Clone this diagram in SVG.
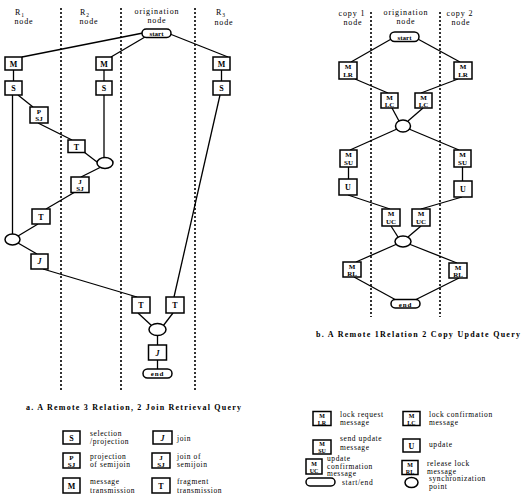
<svg xmlns="http://www.w3.org/2000/svg" width="522" height="499" viewBox="0 0 522 499">
<style>
text{font-family:"Liberation Serif","DejaVu Serif",serif;fill:#000}
.h{font-size:8px;letter-spacing:0.9px;text-anchor:middle}
.b{fill:#fff;stroke:#000;stroke-width:1.5}
.o{fill:#fff;stroke:#000;stroke-width:1.5}
.l{font-size:8px;font-weight:bold;text-anchor:middle}
.s{font-size:7px;font-weight:bold;text-anchor:middle}
.t{font-size:6px;font-weight:bold;text-anchor:middle}
.c{font-size:8px;font-weight:bold;letter-spacing:1px}
.g{font-size:7.5px;letter-spacing:0.6px}
.d{stroke:#000;stroke-width:1.6;stroke-dasharray:2,2;fill:none}
.e{stroke:#000;stroke-width:1.3;fill:none}
</style>
<rect width="522" height="499" fill="#fff"/>
<g id="dividers">
<line class="d" x1="61" y1="8" x2="61" y2="390"/>
<line class="d" x1="121" y1="8" x2="121" y2="390"/>
<line class="d" x1="195" y1="8" x2="195" y2="390"/>
<line class="d" x1="371" y1="12" x2="371" y2="317"/>
<line class="d" x1="440" y1="12" x2="440" y2="317"/>
</g>
<g id="headers">
<text class="h" x="20" y="15">R<tspan font-size="5.5px" dy="1.5">1</tspan></text>
<text class="h" x="24" y="24">node</text>
<text class="h" x="85" y="15">R<tspan font-size="5.5px" dy="1.5">2</tspan></text>
<text class="h" x="89" y="24">node</text>
<text class="h" x="157" y="14">origination</text>
<text class="h" x="157" y="23">node</text>
<text class="h" x="221" y="15">R<tspan font-size="5.5px" dy="1.5">3</tspan></text>
<text class="h" x="224" y="25">node</text>
<text class="h" x="352" y="16">copy 1</text>
<text class="h" x="353" y="25">node</text>
<text class="h" x="406" y="15">origination</text>
<text class="h" x="406" y="24">node</text>
<text class="h" x="460" y="16">copy 2</text>
<text class="h" x="461" y="25">node</text>
</g>
<g id="connectors">
<line class="e" x1="143" y1="33" x2="22" y2="57"/>
<line class="e" x1="145" y1="37" x2="111" y2="57"/>
<line class="e" x1="170" y1="34" x2="228" y2="57"/>
<line class="e" x1="13.5" y1="70" x2="13.5" y2="81"/>
<line class="e" x1="104" y1="70" x2="104" y2="81"/>
<line class="e" x1="221.5" y1="70" x2="221.5" y2="81"/>
<line class="e" x1="12.5" y1="95" x2="12.5" y2="234"/>
<line class="e" x1="18" y1="95" x2="33" y2="107"/>
<line class="e" x1="38" y1="123" x2="72" y2="140"/>
<line class="e" x1="84" y1="152" x2="97" y2="162"/>
<line class="e" x1="104" y1="95" x2="104" y2="158"/>
<line class="e" x1="101" y1="167" x2="81" y2="177"/>
<line class="e" x1="75" y1="192" x2="46" y2="209"/>
<line class="e" x1="38" y1="224" x2="18" y2="236"/>
<line class="e" x1="18" y1="243" x2="37" y2="254"/>
<line class="e" x1="43" y1="269" x2="137" y2="297"/>
<line class="e" x1="220" y1="95" x2="174" y2="297"/>
<line class="e" x1="138" y1="313" x2="152" y2="326"/>
<line class="e" x1="173" y1="313" x2="163" y2="326"/>
<line class="e" x1="157.5" y1="335" x2="157.5" y2="345"/>
<line class="e" x1="157.5" y1="360" x2="157.5" y2="369"/>
<line class="e" x1="393" y1="38" x2="351" y2="62"/>
<line class="e" x1="416" y1="38" x2="460" y2="62"/>
<line class="e" x1="355" y1="79" x2="388" y2="93"/>
<line class="e" x1="458" y1="79" x2="421" y2="93"/>
<line class="e" x1="392" y1="108" x2="399" y2="121"/>
<line class="e" x1="423" y1="108" x2="408" y2="121"/>
<line class="e" x1="397" y1="129" x2="350" y2="150"/>
<line class="e" x1="409" y1="129" x2="459" y2="150"/>
<line class="e" x1="348.5" y1="167" x2="348.5" y2="179"/>
<line class="e" x1="462.5" y1="167" x2="462.5" y2="181"/>
<line class="e" x1="348" y1="195" x2="390" y2="209"/>
<line class="e" x1="462" y1="197" x2="421" y2="209"/>
<line class="e" x1="391" y1="226" x2="398" y2="237"/>
<line class="e" x1="421" y1="226" x2="408" y2="237"/>
<line class="e" x1="397" y1="244" x2="356" y2="262"/>
<line class="e" x1="409" y1="244" x2="457" y2="263"/>
<line class="e" x1="354" y1="277" x2="396" y2="300"/>
<line class="e" x1="459" y1="278" x2="415" y2="300"/>
</g>
<g id="start-a"><rect class="o" x="142" y="29" width="29" height="8.5" rx="4.2"/><text class="s" x="156.5" y="35.5" font-weight="normal">start</text></g>
<g id="m1"><rect class="b" x="5" y="57" width="17" height="13"/><text class="l" x="13.5" y="66.5">M</text></g>
<g id="s1"><rect class="b" x="5" y="81" width="17" height="14"/><text class="l" x="13.5" y="91">S</text></g>
<g id="m2"><rect class="b" x="96" y="57" width="16" height="13"/><text class="l" x="104" y="66.5">M</text></g>
<g id="s2"><rect class="b" x="96" y="81" width="16" height="14"/><text class="l" x="104" y="91">S</text></g>
<g id="m3"><rect class="b" x="213" y="57" width="17" height="13"/><text class="l" x="221.5" y="66.5">M</text></g>
<g id="s3"><rect class="b" x="213" y="81" width="17" height="14"/><text class="l" x="221.5" y="91">S</text></g>
<g id="psj"><rect class="b" x="30" y="107" width="18" height="16"/><text class="s" x="39" y="113.5">P</text><text class="s" x="39" y="121">SJ</text></g>
<g id="t1"><rect class="b" x="68" y="140" width="17" height="12.5"/><text class="l" x="76.5" y="149.5">T</text></g>
<g id="sync1"><ellipse class="o" cx="105" cy="163" rx="8" ry="5.5"/></g>
<g id="jsj"><rect class="b" x="71" y="177" width="18" height="15.5"/><text class="s" x="80" y="183.5">J</text><text class="s" x="80" y="191">SJ</text></g>
<g id="t2"><rect class="b" x="32" y="209" width="18" height="15"/><text class="l" x="41" y="219.5">T</text></g>
<g id="sync2"><ellipse class="o" cx="12.5" cy="239.5" rx="7.5" ry="5.5"/></g>
<g id="j1"><rect class="b" x="31" y="254" width="17" height="15"/><text class="l" x="39.5" y="264" font-style="italic">J</text></g>
<g id="t3"><rect class="b" x="132" y="297" width="18" height="16"/><text class="l" x="141" y="308">T</text></g>
<g id="t4"><rect class="b" x="166" y="297" width="18" height="16"/><text class="l" x="175" y="308">T</text></g>
<g id="sync3"><ellipse class="o" cx="157.5" cy="329.5" rx="8.5" ry="6"/></g>
<g id="j2"><rect class="b" x="148.5" y="345" width="18" height="15"/><text class="l" x="157.5" y="355.5" font-style="italic">J</text></g>
<g id="end-a"><rect class="o" x="143" y="369" width="29" height="9" rx="4.5"/><text class="s" x="157.5" y="376" font-weight="normal" letter-spacing="0.8">end</text></g>
<g id="caption-a"><text class="c" x="26" y="410" textLength="216" lengthAdjust="spacing">a. A Remote 3 Relation, 2 Join Retrieval Query</text></g>
<g id="start-b"><rect class="o" x="390" y="32" width="29" height="9.5" rx="4.7"/><text class="s" x="404.5" y="39.5" font-weight="normal">start</text></g>
<g id="lr1"><rect class="b" x="339" y="62" width="18" height="17"/><text class="s" x="348" y="69">M</text><text class="s" x="348" y="77">LR</text></g>
<g id="lr2"><rect class="b" x="454" y="62" width="18" height="17"/><text class="s" x="463" y="69">M</text><text class="s" x="463" y="77">LR</text></g>
<g id="lc1"><rect class="b" x="381" y="93" width="17" height="15"/><text class="s" x="389.5" y="99.5">M</text><text class="s" x="389.5" y="106.5">LC</text></g>
<g id="lc2"><rect class="b" x="415" y="93" width="17" height="15"/><text class="s" x="423.5" y="99.5">M</text><text class="s" x="423.5" y="106.5">LC</text></g>
<g id="sync4"><ellipse class="o" cx="403" cy="126" rx="7.5" ry="6"/></g>
<g id="su1"><rect class="b" x="340" y="150" width="17" height="17"/><text class="s" x="348.5" y="157">M</text><text class="s" x="348.5" y="165">SU</text></g>
<g id="su2"><rect class="b" x="454" y="150" width="17" height="17"/><text class="s" x="462.5" y="157">M</text><text class="s" x="462.5" y="165">SU</text></g>
<g id="u1"><rect class="b" x="339" y="179" width="18" height="16"/><text class="l" x="348" y="189.5" font-weight="normal">U</text></g>
<g id="u2"><rect class="b" x="454" y="181" width="18" height="16"/><text class="l" x="463" y="191.5" font-weight="normal">U</text></g>
<g id="uc1"><rect class="b" x="382" y="209" width="18" height="17"/><text class="s" x="391" y="216">M</text><text class="s" x="391" y="224">UC</text></g>
<g id="uc2"><rect class="b" x="412" y="209" width="18" height="17"/><text class="s" x="421" y="216">M</text><text class="s" x="421" y="224">UC</text></g>
<g id="sync5"><ellipse class="o" cx="403" cy="241.5" rx="8" ry="5.5"/></g>
<g id="rl1"><rect class="b" x="343" y="262" width="18" height="15"/><text class="s" x="352" y="268.5">M</text><text class="s" x="352" y="275.5">RL</text></g>
<g id="rl2"><rect class="b" x="449" y="263" width="18" height="15"/><text class="s" x="458" y="269.5">M</text><text class="s" x="458" y="276.5">RL</text></g>
<g id="end-b"><rect class="o" x="391" y="299.5" width="29" height="8.5" rx="4.2"/><text class="s" x="405.5" y="306.5" font-weight="normal" letter-spacing="0.8">end</text></g>
<g id="caption-b"><text class="c" x="316" y="337" textLength="205" lengthAdjust="spacing">b. A Remote 1Relation 2 Copy Update Query</text></g>
<g id="legend-a">
<rect class="b" x="63" y="431" width="17" height="13"/><text class="l" x="71.5" y="441">S</text>
<text class="g" x="90" y="436">selection</text><text class="g" x="90" y="444">/projection</text>
<rect class="b" x="153" y="431" width="19" height="13"/><text class="l" x="162.5" y="441" font-style="italic">J</text>
<text class="g" x="177" y="441">join</text>
<rect class="b" x="63" y="453" width="17" height="15"/><text class="s" x="71.5" y="459.5">P</text><text class="s" x="71.5" y="466.5">SJ</text>
<text class="g" x="90" y="459">projection</text><text class="g" x="90" y="467">of semijoin</text>
<rect class="b" x="152" y="453" width="18" height="15"/><text class="s" x="161" y="459.5">J</text><text class="s" x="161" y="466.5">SJ</text>
<text class="g" x="177" y="459">join of</text><text class="g" x="177" y="467">semijoin</text>
<rect class="b" x="63" y="478" width="17" height="15"/><text class="l" x="71.5" y="488.5">M</text>
<text class="g" x="90" y="484">message</text><text class="g" x="90" y="493">transmission</text>
<rect class="b" x="152" y="478" width="18" height="15"/><text class="l" x="161" y="488.5">T</text>
<text class="g" x="177" y="484">fragment</text><text class="g" x="177" y="493">transmission</text>
</g>
<g id="legend-b">
<rect class="b" x="313" y="411.5" width="18" height="14"/><text class="t" x="322" y="417.5">M</text><text class="t" x="322" y="424.5">LR</text>
<text class="g" x="340" y="417">lock request</text><text class="g" x="340" y="425">message</text>
<rect class="b" x="403" y="411.5" width="17" height="14"/><text class="t" x="411.5" y="417.5">M</text><text class="t" x="411.5" y="424.5">LC</text>
<text class="g" x="429" y="417">lock confirmation</text><text class="g" x="429" y="425">message</text>
<rect class="b" x="313" y="440" width="18" height="14"/><text class="t" x="322" y="446">M</text><text class="t" x="322" y="453">SU</text>
<text class="g" x="340" y="441">send update</text><text class="g" x="340" y="449.5">message</text>
<rect class="b" x="403" y="439" width="17" height="13"/><text class="l" x="411.5" y="448.5" font-weight="normal">U</text>
<text class="g" x="429" y="447">update</text>
<rect class="b" x="306" y="459" width="16" height="15"/><text class="t" x="314" y="465.5">M</text><text class="t" x="314" y="472.5">UC</text>
<text class="g" x="327" y="461">update</text><text class="g" x="327" y="468.5">confirmation</text><text class="g" x="327" y="476">message</text>
<rect class="b" x="402" y="460.5" width="16" height="14"/><text class="t" x="410" y="466.5">M</text><text class="t" x="410" y="473.5">RL</text>
<text class="g" x="427" y="466">release lock</text><text class="g" x="427" y="473.5">message</text>
<rect class="o" x="306" y="478" width="29" height="8" rx="4"/>
<text class="g" x="342" y="485">start/end</text>
<ellipse class="o" cx="411.5" cy="482.5" rx="6.5" ry="5"/>
<text class="g" x="429" y="481">synchronization</text><text class="g" x="429" y="488.5">point</text>
</g>
</svg>
